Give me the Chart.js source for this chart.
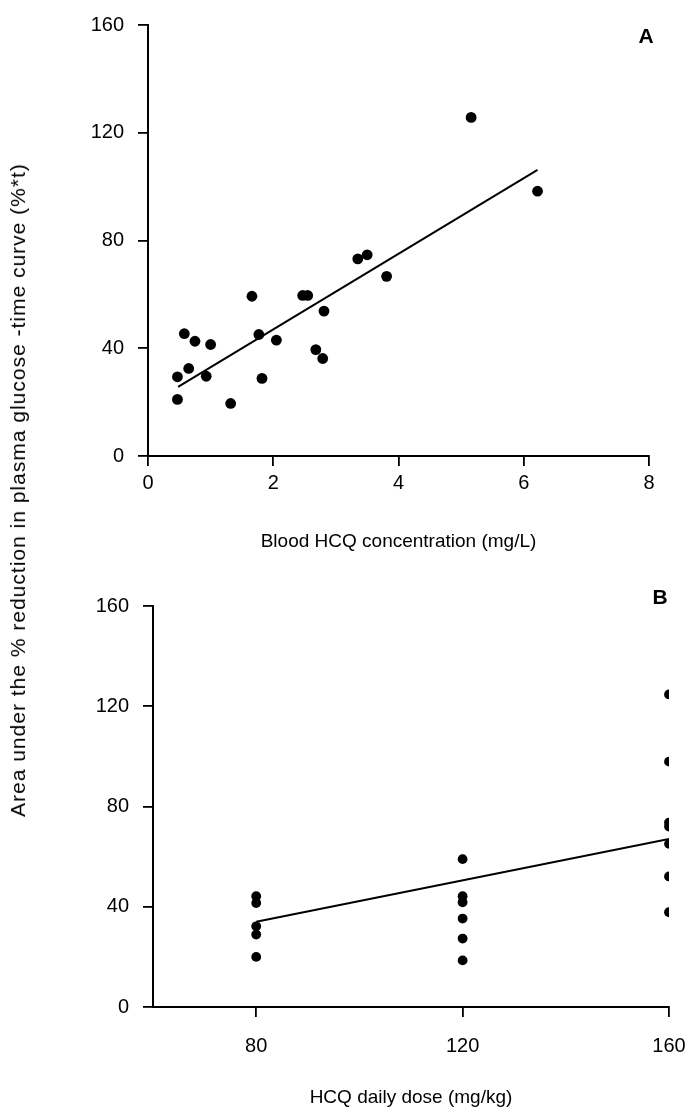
<!DOCTYPE html>
<html><head><meta charset="utf-8">
<script src="https://cdn.jsdelivr.net/npm/chart.js@4/dist/chart.umd.min.js"></script>
<style>
html,body{margin:0;padding:0;background:#fff;}
#wrap{position:relative;width:696px;height:1114px;overflow:hidden;background:#fff;}
canvas{position:absolute;left:0;}
#ytitle{position:absolute;left:18px;top:490px;transform:translate(-50%,-50%) rotate(-90deg);white-space:nowrap;font-family:"Liberation Sans",Arial,sans-serif;font-size:21px;letter-spacing:1px;color:#000;}
</style></head><body>
<div id="wrap">
<canvas id="ca" style="top:0px" width="696" height="580"></canvas>
<canvas id="cb" style="top:580px" width="696" height="534"></canvas>
<div id="ytitle">Area under the % reduction in plasma glucose -time curve (%*t)</div>
</div>
<script>
// Panel A: blood HCQ concentration vs AUC
const concA = [0.47,0.47,0.58,0.65,0.75,0.93,1.00,1.32,1.66,1.77,1.82,2.05,2.47,2.55,2.68,2.79,2.81,3.35,3.50,3.81,5.16,6.22];
const aucA  = [29.4,21.0,45.4,32.5,42.6,29.6,41.4,19.5,59.3,45.1,28.8,43.0,59.6,59.6,39.5,36.2,53.8,73.2,74.7,66.7,125.7,98.3];
const fitAX = [0.48, 6.22];
const fitAY = [25.7, 106.2];
// Panel B: HCQ daily dose vs AUC
const doseB = [80,80,80,80,80,120,120,120,120,120,120,160,160,160,160,160,160,160];
const aucB  = [44.2,41.5,32.2,28.9,20.0,59.0,44.2,41.8,35.3,27.3,18.6,124.7,97.9,73.6,72.0,65.1,52.1,37.8];
const fitBX = [80, 160];
const fitBY = [34.0, 67.0];
// Tick labels
const ticksXA = [0,2,4,6,8];
const ticksXB = [80,120,160];
const ticksY  = [0,40,80,120,160];

const FAM = '"Liberation Sans", Arial, sans-serif';

function letterPlugin(txt, x, y){
  return {id:'letter'+txt, afterDraw(chart){
    const c = chart.ctx; c.save();
    c.font = 'bold 21px ' + FAM; c.fillStyle = '#000';
    c.textAlign = 'center'; c.textBaseline = 'middle';
    c.fillText(txt, x, y); c.restore();
  }};
}
function axisCommon(){
  return {
    border:{display:true,color:'#000',width:2},
    grid:{display:true,drawOnChartArea:false,drawTicks:true,tickLength:10,color:'#000',lineWidth:1.8},
  };
}
function makeChart(id, xs, ys, fx, fy, cfg){
  return new Chart(document.getElementById(id), {
    type:'scatter',
    data:{datasets:[
      {type:'scatter', data: xs.map((x,i)=>({x:x,y:ys[i]})), pointRadius:cfg.r, pointHoverRadius:cfg.r, backgroundColor:'#000', borderColor:'#000', borderWidth:0},
      {type:'line', data: fx.map((x,i)=>({x:x,y:fy[i]})), borderColor:'#000', borderWidth:2, pointRadius:0, fill:false, tension:0}
    ]},
    options:{
      responsive:false, animation:false, events:[],
      layout:{padding:{top:cfg.top,right:cfg.right,left:0,bottom:0}},
      plugins:{legend:{display:false},tooltip:{enabled:false}},
      scales:{
        x:Object.assign(axisCommon(),{
          type:'linear', min:cfg.xmin, max:cfg.xmax,
          afterBuildTicks:s=>{s.ticks = cfg.xticks.map(v=>({value:v}));},
          afterFit:s=>{s.height = cfg.xh; s.paddingLeft = 0; s.paddingRight = 0;},
          ticks:{color:'#000',font:{family:FAM,size:20},padding:cfg.xpad,maxRotation:0,autoSkip:false},
          title:{display:true,text:cfg.xtitle,color:'#000',font:{family:FAM,size:19},padding:{top:0,bottom:cfg.tpad}}
        }),
        y:Object.assign(axisCommon(),{
          type:'linear', min:0, max:160,
          afterBuildTicks:s=>{s.ticks = ticksY.map(v=>({value:v}));},
          afterFit:s=>{s.width = cfg.left; s.paddingTop = 0; s.paddingBottom = 0;},
          ticks:{color:'#000',font:{family:FAM,size:20},padding:14}
        })
      }
    },
    plugins:[letterPlugin(cfg.letter, cfg.lx, cfg.ly)]
  });
}
makeChart('ca', concA, aucA, fitAX, fitAY, {r:5.4, top:25, right:47, left:148, xmin:0, xmax:8, xticks:ticksXA, xh:124, xpad:5, tpad:27, xtitle:'Blood HCQ concentration (mg/L)', letter:'A', lx:646, ly:37});
makeChart('cb', doseB, aucB, fitBX, fitBY, {r:4.9, top:26, right:27, left:153, xmin:60, xmax:160, xticks:ticksXB, xh:107, xpad:17, tpad:5, xtitle:'HCQ daily dose (mg/kg)', letter:'B', lx:660, ly:18});
</script>
</body></html>
